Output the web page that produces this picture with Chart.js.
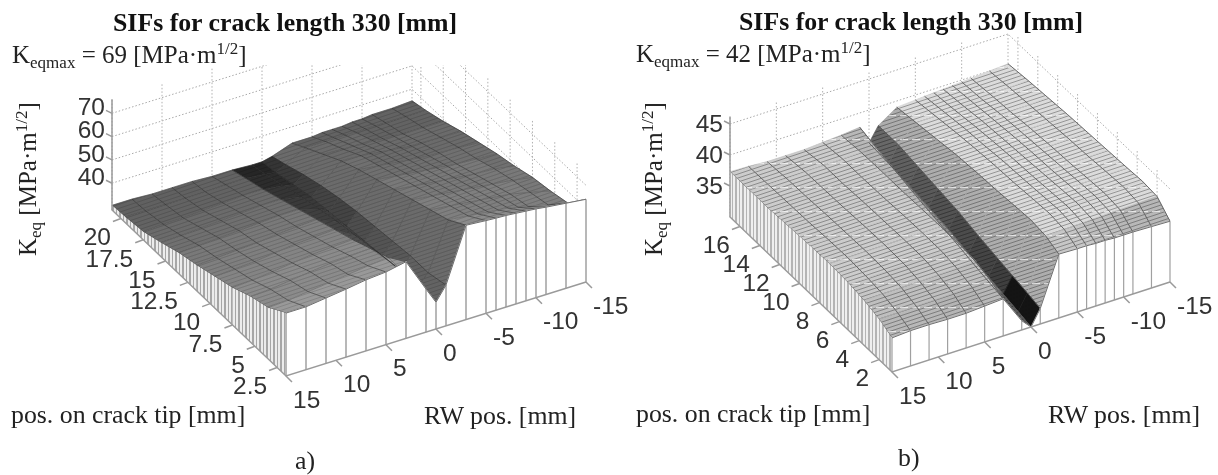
<!DOCTYPE html>
<html>
<head>
<meta charset="utf-8">
<script src="https://cdn.jsdelivr.net/npm/chart.js@4"></script>
<style>
    body { margin: 0; background: #fff; }
    #wrap { position: relative; width: 1218px; height: 475px; overflow: hidden; }
    canvas { position: absolute; left: 0; top: 0; filter: blur(0.45px); }
    .txt { position: absolute; white-space: nowrap; font-family: "Liberation Serif", serif; color: #222; line-height: 1; filter: blur(0.3px); }
    .titulo { font-weight: bold; font-size: 25.8px; color: #111; }
    .info { font-size: 25.8px; }
    .kq { font-size: 25px; }
    .info sub { font-size: 17px; line-height: 0; vertical-align: -5px; }
    .info sup { font-size: 17px; line-height: 0; vertical-align: 9px; }
    .vert { transform-origin: left top; transform: rotate(-90deg); }
</style>
</head>
<body>
<div id="wrap">
    <canvas id="grafica" width="1218" height="475"></canvas>

    <div class="txt titulo" style="left:113px;top:10px;">SIFs for crack length 330 [mm]</div>
    <div class="txt info kq" style="left:12px;top:42px;">K<sub>eqmax</sub> = 69 [MPa·m<sup>1/2</sup>]</div>
    <div class="txt info kq vert" style="left:15px;top:256px;">K<sub>eq</sub> [MPa·m<sup>1/2</sup>]</div>
    <div class="txt info" style="left:11px;top:402px;">pos. on crack tip [mm]</div>
    <div class="txt info" style="left:424px;top:403px;">RW pos. [mm]</div>
    <div class="txt info" style="left:295px;top:448px;">a)</div>

    <div class="txt titulo" style="left:739px;top:9px;">SIFs for crack length 330 [mm]</div>
    <div class="txt info kq" style="left:636px;top:41px;">K<sub>eqmax</sub> = 42 [MPa·m<sup>1/2</sup>]</div>
    <div class="txt info kq vert" style="left:641px;top:256px;">K<sub>eq</sub> [MPa·m<sup>1/2</sup>]</div>
    <div class="txt info" style="left:636px;top:401px;">pos. on crack tip [mm]</div>
    <div class="txt info" style="left:1048px;top:402px;">RW pos. [mm]</div>
    <div class="txt info" style="left:898px;top:445px;">b)</div>
</div>

<script>
// ===== DATA =====
const rwPos = [15, 13, 11, 9, 7, 5, 3, 1, 0, -1, -3, -5, -6, -7, -8, -9, -10, -11, -13, -15];
const rwTicks = [15, 10, 5, 0, -5, -10, -15];

// a) one row per crack position, one column per RW position
const crackA = [1.5, 3.5, 5.5, 7.5, 9.5, 11.5, 13.5, 15.5, 17.5, 19.5, 21];
const crackTicksA = [2.5, 5, 7.5, 10, 12.5, 15, 17.5, 20];
const zTicksA = [40, 50, 60, 70];
const keqA = [
    [55.5, 55.5, 56.6, 57.7, 59, 59.7, 61.4, 47, 40, 46, 69, 68.3, 68, 67.8, 67.4, 67, 66.6, 66, 65, 64],
    [50.5, 51, 52, 53, 54, 55, 56, 45, 39.5, 44, 64, 63, 62.5, 62, 61.5, 61, 60, 59, 57, 55],
    [48, 48.5, 49.5, 50.5, 51.5, 52, 52.5, 44, 39, 44, 61, 60, 59.5, 59, 58.5, 58, 57.5, 57, 55, 53],
    [44.5, 45, 46, 47, 48, 48.5, 49, 42.5, 38, 43, 58, 57, 56.5, 56, 55.5, 55, 54.5, 54, 53, 51.5],
    [42, 42.5, 43, 44, 45, 45.5, 46, 41, 37, 42, 55, 54, 53.5, 53, 52.5, 52, 51.5, 51, 50.5, 49],
    [39.5, 40, 40.5, 41, 42, 42.5, 43, 39.5, 36, 41, 52, 51, 50.5, 50, 49.5, 49, 48.5, 48, 47.5, 47],
    [37.5, 38, 38.5, 39, 39.5, 40, 40, 37.5, 35, 39.5, 49, 48, 47.5, 47, 46.5, 46, 45.5, 45.5, 45, 44.5],
    [34.5, 35, 35.5, 36, 36.5, 37, 37, 35.5, 34, 37.5, 45.5, 45, 44.5, 44, 43.5, 43, 42.5, 42.5, 42, 42],
    [32, 32.5, 32.5, 33, 33.5, 34, 34, 33, 32, 35, 41, 40.5, 40.5, 40, 40, 39.5, 39.5, 39, 39, 39],
    [31, 31, 31, 31, 31, 31.5, 31.5, 30.5, 30, 32, 36.5, 36.5, 36.5, 36.5, 36.5, 36.5, 36.5, 36.5, 36.5, 36.5],
    [30.5, 30.5, 30, 30, 30, 29.5, 29.5, 29, 29, 30, 33, 33, 33.5, 33.5, 33.5, 34, 34, 34.5, 34.5, 35]
];

// b)
const crackB = [0.7, 2, 3.5, 5, 7, 9, 11, 13, 15, 17];
const crackTicksB = [2, 4, 6, 8, 10, 12, 14, 16];
const zTicksB = [35, 40, 45];
const keqB = [
    [35.5, 35.7, 35.7, 35.6, 35.6, 35.8, 36, 31.5, 30, 32.5, 40.3, 40.2, 40.2, 40.1, 40.1, 40, 40, 40, 39.9, 39.8],
    [36.5, 36.6, 36.7, 36.7, 36.8, 36.9, 37, 32, 30.5, 33, 41.2, 41.3, 41.4, 41.4, 41.5, 41.5, 41.6, 41.6, 41.7, 41.8],
    [37.2, 37.3, 37.4, 37.4, 37.5, 37.6, 37.8, 32.5, 31, 33.5, 41.5, 41.6, 41.7, 41.7, 41.8, 41.8, 41.9, 41.9, 42, 42],
    [37.6, 37.6, 37.7, 37.8, 37.9, 38, 38, 33, 31.5, 34, 41.3, 41.4, 41.5, 41.5, 41.6, 41.6, 41.7, 41.7, 41.8, 41.8],
    [37.8, 37.8, 37.8, 37.9, 37.9, 38, 38, 33.8, 32.2, 34.7, 41, 41.1, 41.2, 41.2, 41.3, 41.3, 41.4, 41.4, 41.5, 41.6],
    [37.7, 37.7, 37.7, 37.8, 37.8, 37.9, 37.9, 34.5, 33, 35.5, 40.8, 40.9, 41, 41, 41, 41.1, 41.1, 41.2, 41.3, 41.4],
    [37.5, 37.5, 37.6, 37.6, 37.7, 37.7, 37.8, 35.2, 33.5, 36, 40.5, 40.6, 40.6, 40.7, 40.7, 40.8, 40.8, 40.9, 41, 41.2],
    [37.3, 37.4, 37.4, 37.5, 37.5, 37.6, 37.8, 36, 34, 36.5, 40, 40.2, 40.3, 40.3, 40.4, 40.4, 40.5, 40.5, 40.7, 40.9],
    [37.3, 37.3, 37.3, 37.4, 37.5, 37.6, 37.7, 36.8, 34.4, 37, 39.5, 39.7, 39.8, 39.8, 39.9, 40, 40, 40.2, 40.4, 40.6],
    [37.3, 37.2, 37, 37, 37, 37.2, 37.4, 37.7, 34.7, 37, 39, 39.2, 39.3, 39.4, 39.5, 39.6, 39.7, 39.8, 40, 40.2]
];

// ===== VIEWS (oblique projection of each 3D box onto the page) =====
const vistaA = {
    crack: crackA, keq: keqA, crackTicks: crackTicksA, zTicks: zTicksA,
    front: [286, 376], dirRw: [300, -94], dirCrack: [-174, -166], zPx: 2.33, zMin: 28.5, zMax: 76,
    clipTop: 65, zEtiqueta: -5, barra: '#b8b8b8', barraW: 2, cruce: 'rgba(40,40,40,0.25)', columna: 'rgba(40,40,40,0.55)',
    muro: ['#a6a6a6', '#ececec'], rayas: 0.86, luces: false,
    // darkest on the walls of the valley, lighter towards the front
    tono: (sC, rw, q) => {
        if (rw > 0 && rw < 3) return 0.14 + 0.24 * (1 - q);
        if (rw > -1 && rw < 0) return 0.2 + 0.2 * (1 - q);
        if (rw > -3 && rw < 0) return 0.42;
        return 0.36 + 0.2 * (1 - q) * (rw > 0 ? 1 : 0.7) + 0.02 * Math.max(sC, 0);
    }
};
const vistaB = {
    crack: crackB, keq: keqB, crackTicks: crackTicksB, zTicks: zTicksB,
    front: [892, 372], dirRw: [278, -90], dirCrack: [-162, -155], zPx: 6.2, zMin: 30, zMax: 46.2,
    clipTop: 33, zEtiqueta: 1, barra: '#a0a0a0', barraW: 1.2, cruce: null, columna: 'rgba(85,85,85,0.85)',
    muro: ['#b4b4b4', '#efefef'], rayas: 0.68, luces: true,
    tono: (sC, rw, q) => {
        if (rw > 0 && rw < 1) return q < 0.15 ? 0.36 : 0.55;
        if (rw > 1 && rw < 3) return q < 0.15 ? 0.42 : 0.72;
        if (rw > -1 && rw < 0) return q < 0.15 ? 0.08 : 0.2 + 0.22 * q;
        if (rw > -3 && rw < 0) return 0.68;
        return (rw > 0 ? 0.8 : 0.86) + 0.1 * Math.min(sC, 0);
    }
};

function proyectar(v, rw, crack, z) {
    const p = (rwPos[0] - rw) / (rwPos[0] - rwPos[rwPos.length - 1]);
    const cs = v.crack;
    const q = (crack - cs[0]) / (cs[cs.length - 1] - cs[0]);
    return {
        x: v.front[0] + p * v.dirRw[0] + q * v.dirCrack[0],
        y: v.front[1] + p * v.dirRw[1] + q * v.dirCrack[1] - (z - v.zMin) * v.zPx
    };
}

function gris(g) {
    const n = Math.round(Math.min(0.95, Math.max(0.08, g)) * 255);
    return `rgb(${n},${n},${n})`;
}

// dense crack-wise sampling shows up as fine stripes running along RW
const _patrones = {};
function patronSuperficie(v, g) {
    const clave = `${v.luces}-${Math.round(g * 40)}`;
    if (_patrones[clave]) return _patrones[clave];
    const c = document.createElement('canvas');
    c.width = 72; c.height = 24;
    const ctx = c.getContext('2d');
    ctx.fillStyle = gris(g);
    ctx.fillRect(0, 0, 72, 24);
    ctx.strokeStyle = gris(g * v.rayas);
    ctx.lineWidth = 1;
    for (let k = -24; k <= 48; k += 4) {
        ctx.beginPath();
        ctx.moveTo(0, k + 24);
        ctx.lineTo(72, k);
        ctx.stroke();
    }
    if (v.luces && g > 0.5) {
        ctx.fillStyle = 'rgba(255,255,255,0.65)';
        for (let x = 0; x < 72; x += 12) ctx.fillRect(x, 19, 8, 1);
    }
    _patrones[clave] = ctx.createPattern(c, 'repeat');
    return _patrones[clave];
}

function patronMuro(v) {
    const c = document.createElement('canvas');
    c.width = 7; c.height = 2;
    const ctx = c.getContext('2d');
    ctx.fillStyle = v.muro[1];
    ctx.fillRect(0, 0, 7, 2);
    ctx.fillStyle = v.muro[0];
    ctx.fillRect(0, 0, 2, 2);
    ctx.fillRect(4, 0, 1, 2);
    return ctx.createPattern(c, 'repeat');
}

function linea(data, color, ancho, extra) {
    return Object.assign({
        type: 'line', data, borderColor: color, borderWidth: ancho,
        pointRadius: 0, fill: false, tension: 0
    }, extra);
}

function poligono(data, fondo, borde) {
    return {
        type: 'line', data: data.concat([data[0]]), backgroundColor: fondo, fill: 'shape',
        borderColor: borde, borderWidth: 0.6, pointRadius: 0, tension: 0
    };
}

function datasetsVista(v) {
    const out = [];
    const cs = v.crack, nC = cs.length, nR = rwPos.length;
    const cMin = cs[0], cMax = cs[nC - 1], rMin = rwPos[nR - 1], rMax = rwPos[0];
    const P = (rw, c, z) => proyectar(v, rw, c, z);
    const punteo = { borderDash: [1.5, 2], clip: { left: 0, right: 0, bottom: 0, top: -v.clipTop } };

    // back walls
    v.zTicks.forEach(z => {
        out.push(linea([P(rMax, cMax, z), P(rMin, cMax, z), P(rMin, cMin, z)], '#a8a8a8', 1, punteo));
    });
    rwTicks.forEach(rw => {
        out.push(linea([P(rw, cMax, v.zMin), P(rw, cMax, v.zMax)], '#b0b0b0', 1, punteo));
    });
    v.crackTicks.forEach(c => {
        out.push(linea([P(rMin, c, v.zMin), P(rMin, c, v.zMax)], '#b0b0b0', 1, punteo));
    });

    // surface, far to near
    for (let j = nC - 2; j >= 0; j--) {
        for (let i = nR - 2; i >= 0; i--) {
            const z = v.keq;
            const dc = cs[j + 1] - cs[j];
            const sC = ((z[j][i] - z[j + 1][i]) + (z[j][i + 1] - z[j + 1][i + 1])) / (2 * dc);
            const rwMed = (rwPos[i] + rwPos[i + 1]) / 2;
            const q = ((cs[j] + cs[j + 1]) / 2 - cMin) / (cMax - cMin);
            const g = v.tono(sC, rwMed, q);
            out.push(poligono([
                P(rwPos[i], cs[j], z[j][i]), P(rwPos[i + 1], cs[j], z[j][i + 1]),
                P(rwPos[i + 1], cs[j + 1], z[j + 1][i + 1]), P(rwPos[i], cs[j + 1], z[j + 1][i])
            ], patronSuperficie(v, g), gris(g * 0.95)));
        }
    }

    // mesh lines
    if (v.cruce) {
        cs.forEach((c, j) => out.push(linea(rwPos.map((rw, i) => P(rw, c, v.keq[j][i])), v.cruce, 1)));
    }
    rwPos.forEach((rw, i) => out.push(linea(cs.map((c, j) => P(rw, c, v.keq[j][i])), v.columna, 1)));

    // left side wall (rw = 15)
    const rayado = patronMuro(v);
    for (let j = nC - 2; j >= 0; j--) {
        out.push(poligono([
            P(rMax, cs[j], v.keq[j][0]), P(rMax, cs[j + 1], v.keq[j + 1][0]),
            P(rMax, cs[j + 1], v.zMin), P(rMax, cs[j], v.zMin)
        ], rayado, 'rgba(0,0,0,0)'));
    }

    // front side wall, white panels with vertical bars
    for (let i = nR - 2; i >= 0; i--) {
        out.push(poligono([
            P(rwPos[i], cMin, v.keq[0][i]), P(rwPos[i + 1], cMin, v.keq[0][i + 1]),
            P(rwPos[i + 1], cMin, v.zMin), P(rwPos[i], cMin, v.zMin)
        ], '#ffffff', '#ffffff'));
    }
    rwPos.forEach((rw, i) => {
        out.push(linea([P(rw, cMin, v.zMin), P(rw, cMin, v.keq[0][i])], v.barra, v.barraW));
    });
    out.push(linea(rwPos.map((rw, i) => P(rw, cMin, v.keq[0][i])), '#6e6e6e', 1));

    // axes and tick marks
    const eje = '#9a9a9a';
    out.push(linea([P(rMin, cMin, v.zMin), P(rMax, cMin, v.zMin), P(rMax, cMax, v.zMin), P(rMax, cMax, v.zMax)], eje, 1.5));
    rwTicks.forEach(rw => {
        const a = P(rw, cMin, v.zMin);
        out.push(linea([a, { x: a.x + 6, y: a.y + 6 }], eje, 1.5));
    });
    v.crackTicks.forEach(c => {
        const a = P(rMax, c, v.zMin);
        out.push(linea([a, { x: a.x - 8, y: a.y + 3 }], eje, 1.5));
    });
    v.zTicks.forEach(z => {
        const a = P(rMax, cMax, z);
        out.push(linea([a, { x: a.x - 6, y: a.y - 3 }], eje, 1.5));
    });
    return out;
}

// ===== TICK LABELS =====
const etiquetasEjes = {
    id: 'etiquetasEjes',
    afterDraw(chart) {
        const ctx = chart.ctx, sx = chart.scales.x, sy = chart.scales.y;
        const poner = (txt, x, y, align) => {
            ctx.textAlign = align;
            ctx.fillText(String(txt), sx.getPixelForValue(x), sy.getPixelForValue(y));
        };
        ctx.save();
        ctx.font = '24.5px "Liberation Sans", Arial, sans-serif';
        ctx.fillStyle = '#333';
        ctx.textBaseline = 'middle';
        [vistaA, vistaB].forEach(v => {
            const cs = v.crack, cMin = cs[0], cMax = cs[cs.length - 1];
            const rMin = rwPos[rwPos.length - 1], rMax = rwPos[0];
            v.zTicks.forEach(z => {
                const a = proyectar(v, rMax, cMax, z);
                poner(z, a.x - 7, a.y + v.zEtiqueta, 'right');
            });
            v.crackTicks.forEach(c => {
                const a = proyectar(v, rMax, c, v.zMin);
                poner(c, a.x - 10, a.y + 20, 'right');
            });
            rwTicks.forEach(rw => {
                const a = proyectar(v, rw, cMin, v.zMin);
                poner(rw, a.x + 7, a.y + 25, 'left');
            });
        });
        ctx.restore();
    }
};

// ===== CHART =====
// Chart.js paints the first dataset on top, so the far-to-near list is reversed
const todos = datasetsVista(vistaA).concat(datasetsVista(vistaB)).reverse();

new Chart(document.getElementById('grafica'), {
    type: 'line',
    data: { datasets: todos },
    plugins: [etiquetasEjes],
    options: {
        responsive: false,
        animation: false,
        events: [],
        layout: { padding: 0 },
        plugins: { legend: { display: false }, tooltip: { enabled: false }, title: { display: false } },
        scales: {
            x: { type: 'linear', min: 0, max: 1218, display: false },
            y: { type: 'linear', min: 0, max: 475, reverse: true, display: false }
        }
    }
});
</script>
</body>
</html>
